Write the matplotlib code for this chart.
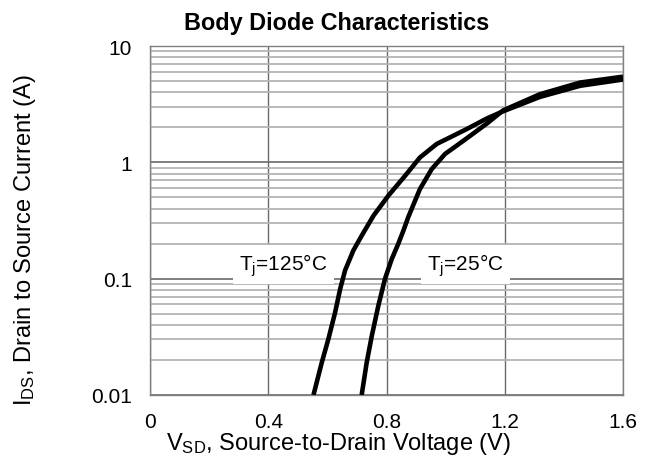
import matplotlib
matplotlib.use("Agg")
import matplotlib.pyplot as plt
from matplotlib.ticker import LogLocator, NullFormatter, FixedLocator

plt.rcParams["font.family"] = ["Liberation Sans", "DejaVu Sans"]
plt.rcParams["mathtext.fontset"] = "custom"
plt.rcParams["mathtext.rm"] = "Liberation Sans"
plt.rcParams["mathtext.it"] = "Liberation Sans"

# ---------- data ----------
v_125 = [0.553, 0.581, 0.603, 0.626, 0.643, 0.660, 0.688, 0.716, 0.756, 0.806,
         0.863, 0.913, 0.970, 1.015, 1.071, 1.139, 1.195, 1.319, 1.455, 1.600]
i_125 = [0.010, 0.019, 0.030, 0.051, 0.081, 0.118, 0.175, 0.234, 0.348, 0.516,
         0.767, 1.100, 1.440, 1.640, 1.930, 2.380, 2.750, 3.650, 4.550, 5.150]
v_25 = [0.716, 0.733, 0.750, 0.772, 0.795, 0.818, 0.840, 0.857, 0.874, 0.913,
        0.953, 0.998, 1.037, 1.083, 1.139, 1.195, 1.319, 1.455, 1.600]
i_25 = [0.010, 0.019, 0.032, 0.058, 0.100, 0.148, 0.200, 0.258, 0.340, 0.589,
        0.875, 1.180, 1.390, 1.690, 2.150, 2.800, 3.850, 4.850, 5.450]
x_ticks = [0, 0.4, 0.8, 1.2, 1.6]
x_ticklabels = ["0", "0.4", "0.8", "1.2", "1.6"]
y_ticks = [0.01, 0.1, 1, 10]
y_ticklabels = ["0.01", "0.1", "1", "10"]

fig = plt.figure(figsize=(6.55, 4.6), dpi=100)
ax = fig.add_axes([150/655, 1-396/460, 473/655, 349/460])
ax.set_yscale("log")
ax.set_xlim(0, 1.6); ax.set_ylim(0.01, 10)

# grid
ax.yaxis.set_minor_locator(LogLocator(base=10, subs=range(2, 10)))
ax.yaxis.set_minor_formatter(NullFormatter())
ax.grid(which="minor", axis="y", color="#b4b4b4", lw=1.3, zorder=0)
ax.grid(which="major", axis="y", color="#6a6a6a", lw=1.2, zorder=0)
ax.grid(which="major", axis="x", color="#6a6a6a", lw=1.0, zorder=0)
for s in ax.spines.values():
    s.set_color("#808080"); s.set_linewidth(1.0)

ax.xaxis.set_major_locator(FixedLocator(x_ticks))
ax.set_xticklabels(x_ticklabels)
ax.yaxis.set_major_locator(FixedLocator(y_ticks))
ax.set_yticklabels(y_ticklabels)
ax.tick_params(which="both", length=0, labelsize=15)
ax.tick_params(axis="y", pad=13)
ax.tick_params(axis="x", pad=12)

ax.plot(v_125, i_125, color="black", lw=3.3, solid_capstyle="butt", zorder=3)
ax.plot(v_25, i_25, color="black", lw=3.3, solid_capstyle="butt", zorder=3)

box = dict(facecolor="white", edgecolor="none", boxstyle="square,pad=0.3")
ax.text(0.452, 0.132, "T$_\\mathrm{j}$=125°C", ha="center", va="center",
        fontsize=15, bbox=box, zorder=4)
ax.text(1.066, 0.132, "T$_\\mathrm{j}$=25°C", ha="center", va="center",
        fontsize=15, bbox=box, zorder=4)

fig.text(337/655, 1-30/460, "Body Diode Characteristics", fontsize=16.8,
         fontweight="bold", ha="center", va="baseline")
fig.text(338/655, 1-450/460, "V$_\\mathrm{SD}$, Source-to-Drain Voltage (V)",
         fontsize=17, ha="center", va="baseline")
fig.text(25/655, 1-240/460, "I$_\\mathrm{DS}$, Drain to Source Current (A)",
         fontsize=17, ha="center", va="center", rotation=90)

fig.savefig("out.png", dpi=100, facecolor="white")
